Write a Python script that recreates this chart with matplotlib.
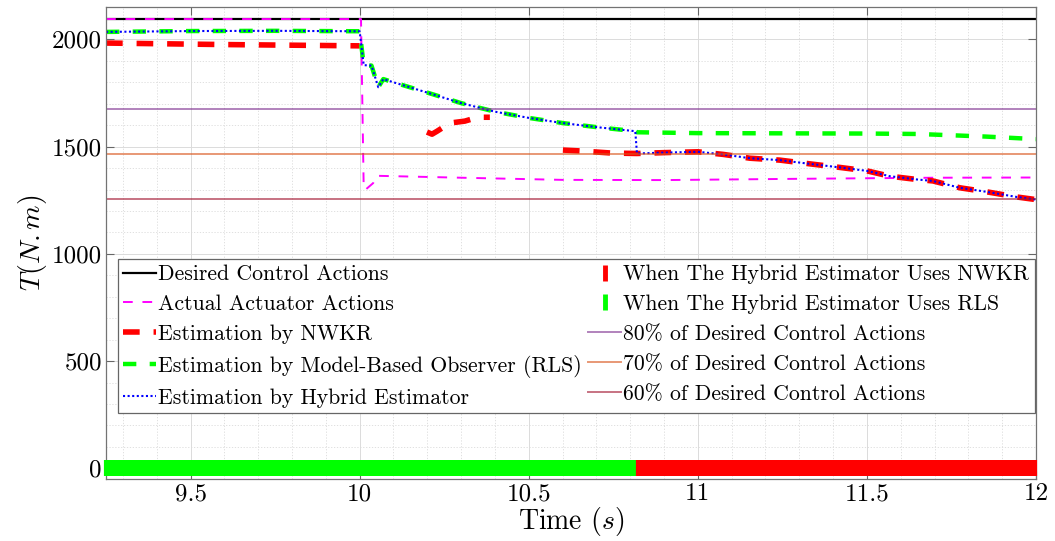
import numpy as np
import matplotlib
matplotlib.use("Agg")
import matplotlib.pyplot as plt
from matplotlib.lines import Line2D
from matplotlib.ticker import MultipleLocator, FuncFormatter

plt.rcParams["font.family"] = ["cmr10"]
plt.rcParams["mathtext.fontset"] = "cm"
plt.rcParams["axes.unicode_minus"] = False
plt.rcParams["axes.formatter.use_mathtext"] = True

# ---- data -------------------------------------------------------------
desired_level = 2095.0

t_desired = [9.25, 12.0]
desired = [2095, 2095]

t_actual = [9.25, 10.004, 10.012, 10.02, 10.04, 10.05, 10.3, 10.6, 10.9, 11.3, 11.7, 12.0]
actual = [2095, 2095, 1302, 1303, 1330, 1364, 1355, 1345, 1344, 1350, 1355, 1356]

t_nwkr = [9.25, 9.6, 10.0, 10.001,
          10.199, 10.214, 10.229, 10.267, 10.311, 10.35, 10.385, 10.386,
          10.601, 10.652, 10.745, 10.82, 10.9, 11.0, 11.074, 11.154, 11.243,
          11.34, 11.42, 11.5, 11.568, 11.647, 11.695, 11.745, 11.775, 11.855,
          11.944, 12.0]
nwkr = [1983, 1976, 1970, np.nan,
        1568, 1558, 1572, 1610, 1619, 1637, 1637, np.nan,
        1484, 1480, 1470, 1468, 1472, 1476, 1464, 1446, 1437,
        1418, 1403, 1387, 1362, 1347, 1340, 1320, 1308, 1289,
        1265, 1253]

t_rls = [9.25, 9.5, 9.75, 10.0, 10.012, 10.035, 10.055, 10.07, 10.1, 10.2,
         10.3, 10.4, 10.5, 10.6, 10.7, 10.815, 10.82, 11.0, 11.25, 11.5,
         11.65, 11.85, 12.0]
rls = [2035, 2039, 2040, 2038, 1880, 1878, 1777, 1815, 1800, 1752,
       1703, 1663, 1634, 1610, 1591, 1572, 1567, 1563, 1562, 1561,
       1559, 1547, 1535]

t_hybrid = [9.25, 9.5, 9.75, 10.0, 10.012, 10.035, 10.055, 10.07, 10.1, 10.2,
            10.3, 10.4, 10.5, 10.6, 10.7, 10.815, 10.82, 10.9, 11.0, 11.074,
            11.154, 11.243, 11.34, 11.42, 11.5, 11.568, 11.647, 11.695, 11.745,
            11.775, 11.855, 11.944, 12.0]
hybrid = [2035, 2039, 2040, 2038, 1880, 1878, 1777, 1815, 1800, 1752,
          1703, 1663, 1634, 1610, 1591, 1572, 1468, 1472, 1476, 1464,
          1446, 1437, 1418, 1403, 1387, 1362, 1347, 1340, 1320,
          1308, 1289, 1265, 1253]

# estimator selection: RLS before the switch, NWKR after it
switch_time = 10.82
t_start, t_end = 9.25, 12.0
sample_step = 0.004

ref_fractions = [0.8, 0.7, 0.6]
ref_labels = ["80% of Desired Control Actions",
              "70% of Desired Control Actions",
              "60% of Desired Control Actions"]
ref_colors = ["#7E2F8E", "#D95319", "#A2142F"]

x_ticks = [9.5, 10, 10.5, 11, 11.5, 12]
y_ticks = [0, 500, 1000, 1500, 2000]

# ---- figure -----------------------------------------------------------
fig = plt.figure(figsize=(10.55, 5.41), dpi=100)
ax = fig.add_axes([0.1005, 0.1146, 0.8815, 0.872])

ax.plot(t_desired, desired, color="black", lw=1.6, label="Desired Control Actions")
ax.plot(t_actual, actual, color="#FF00FF", lw=1.4, dashes=(5.0, 5.0),
        label="Actual Actuator Actions")
ax.plot(t_nwkr, nwkr, color="#FF0000", lw=4.0, dashes=(3.0, 2.5),
        label="Estimation by NWKR")
ax.plot(t_rls, rls, color="#00FF00", lw=3.2, dashes=(3.0, 3.0),
        label="Estimation by Model-Based Observer (RLS)")
ax.plot(t_hybrid, hybrid, color="#0000FF", lw=1.5, linestyle=(0, (1, 1.2)),
        label="Estimation by Hybrid Estimator")

# estimator-selection strip along T = 0
t_samples = np.arange(t_start, t_end + 1e-9, sample_step)
uses_rls = t_samples < switch_time
ax.plot(t_samples[uses_rls], np.zeros(uses_rls.sum()), linestyle="none",
        marker="|", ms=11, mew=3.0, color="#00FF00", clip_on=False, zorder=5)
ax.plot(t_samples[~uses_rls], np.zeros((~uses_rls).sum()), linestyle="none",
        marker="|", ms=11, mew=3.0, color="#FF0000", clip_on=False, zorder=5)

for frac, lab, col in zip(ref_fractions, ref_labels, ref_colors):
    ax.axhline(frac * desired_level, color=col, alpha=0.6, lw=1.4, label=lab)

ax.set_xlim(t_start, t_end)
ax.set_ylim(-50, 2150)
ax.set_xticks(x_ticks)
ax.set_yticks(y_ticks)
ax.xaxis.set_major_formatter(FuncFormatter(lambda v, p: f"{v:g}"))
ax.yaxis.set_major_formatter(FuncFormatter(lambda v, p: f"{v:g}"))
ax.xaxis.set_minor_locator(MultipleLocator(0.1))
ax.yaxis.set_minor_locator(MultipleLocator(100))

ax.grid(which="major", color="0.86", lw=0.7, linestyle="-")
ax.grid(which="minor", color="0.86", lw=0.6, linestyle=(0, (1.5, 2)))
ax.set_axisbelow(True)

ax.tick_params(which="major", direction="in", top=True, right=True,
               length=6, width=0.8, color="0.4", labelsize=18, pad=3)
ax.tick_params(which="minor", length=0)
for s in ax.spines.values():
    s.set_color("0.45")
    s.set_linewidth(0.9)

ax.set_xlabel("Time $(s)$", fontsize=20, labelpad=0)
ax.set_ylabel("$T(N.m)$", fontsize=20, labelpad=2)

# legend in MATLAB-like order: five estimator lines, then strip and levels
handles, labels = ax.get_legend_handles_labels()
bar_nwkr = Line2D([], [], linestyle="none", marker="|", ms=11, mew=3.5,
                  color="#FF0000")
bar_rls = Line2D([], [], linestyle="none", marker="|", ms=11, mew=3.5,
                 color="#00FF00")
leg_handles = handles[:5] + [bar_nwkr, bar_rls] + handles[5:]
leg_labels = labels[:5] + ["When The Hybrid Estimator Uses NWKR",
                           "When The Hybrid Estimator Uses RLS"] + labels[5:]
leg = ax.legend(leg_handles, leg_labels, ncol=2, loc="upper left",
                bbox_to_anchor=(0.0125, 0.466), fontsize=15.7,
                handlelength=1.5, handletextpad=0.1, columnspacing=0.3,
                labelspacing=0.48, borderpad=0.25, borderaxespad=0.0,
                fancybox=False, framealpha=1.0, edgecolor="0.4")
leg.get_frame().set_linewidth(0.9)

fig.savefig("out.png", dpi=100)
